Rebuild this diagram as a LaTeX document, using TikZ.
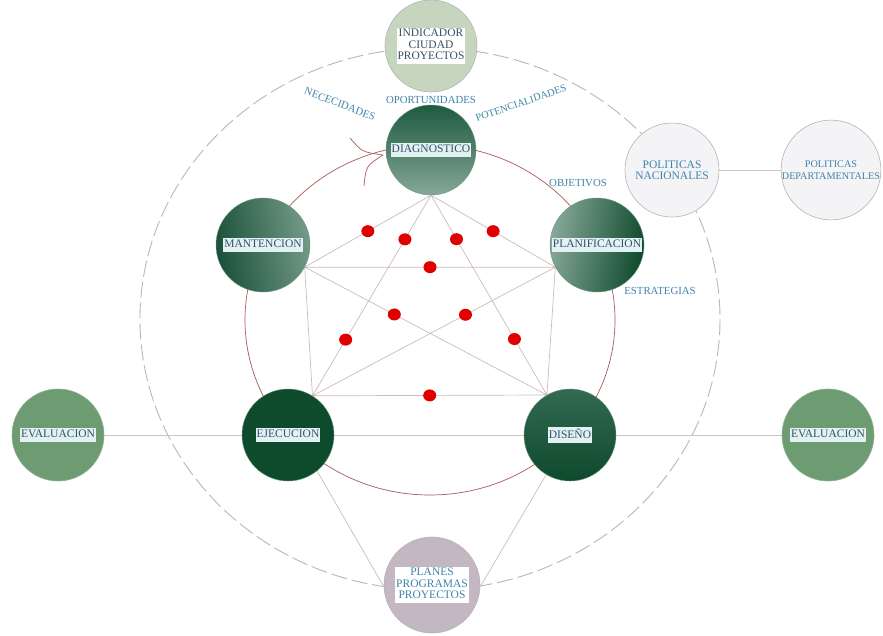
\documentclass[tikz,border=0pt]{standalone}
\usepackage{fontspec}
\setmainfont{Liberation Serif}
\usetikzlibrary{backgrounds,calc}
\pgfdeclarelayer{under}
\pgfsetlayers{background,under,main}
\definecolor{ringred}{HTML}{A85A5A}
\definecolor{dashc}{HTML}{C8B0B0}
\definecolor{linec}{HTML}{CDBBBB}
\definecolor{hlinec}{HTML}{CCC4C4}
\definecolor{labeltxt}{HTML}{35506A}
\definecolor{bluetxt}{HTML}{3F85A8}
\definecolor{labelbg}{HTML}{E2F1F1}
\definecolor{dkgreen}{HTML}{0E4A2C}
\definecolor{dkgreenB}{HTML}{1D5A40}
\definecolor{ltgreen}{HTML}{86A898}
\definecolor{evalgreen}{HTML}{6E9C72}
\definecolor{indfill}{HTML}{C6D6BE}
\definecolor{polfill}{HTML}{F4F4F6}
\definecolor{planfill}{HTML}{C3B8C2}
\definecolor{bordergray}{HTML}{B4B4B8}
\definecolor{dotred}{HTML}{E00000}
\newcommand\boxlbl[2][labelbg]{{\setlength\fboxsep{1pt}\colorbox{#1}{\color{labeltxt}\begin{tabular}{@{}c@{}}#2\end{tabular}}}}
\begin{document}
\begin{tikzpicture}[x=1pt,y=-1pt,
  bubble/.style={circle,inner sep=0pt,font=\fontsize{11.5}{11.5}\selectfont,align=center},
  darknode/.style={bubble,draw=dkgreen!60,line width=0.4pt,minimum size=#1},
  darknode/.default=94pt,
  lightnode/.style={bubble,draw=bordergray,line width=0.6pt,minimum size=#1},
  lightnode/.default=94pt,
  outlbl/.style={font=\fontsize{10.8}{12}\selectfont,text=bluetxt,inner sep=0.5pt},
  pent/.style={draw=linec,line width=0.7pt},
  hline/.style={draw=hlinec,line width=0.8pt},
  dot/.style={fill=dotred,draw=none},
  ring/.style={draw=ringred,line width=0.7pt},
  dashring/.style={draw=dashc,line width=0.9pt,dash pattern=on 16pt off 5pt},
]
\begin{pgfonlayer}{background}
\fill[white] (0,0) rectangle (883,635);
\end{pgfonlayer}
\useasboundingbox (0,0) rectangle (883,635);

% nodes
\node[lightnode=92pt,fill=indfill] (ind) at (431,46) {\boxlbl[white]{INDICADOR\\CIUDAD\\PROYECTOS}};
\node[darknode=90pt,top color=dkgreenB,bottom color=ltgreen] (diag) at (431,150) {\boxlbl{DIAGNOSTICO}};
\node[darknode,left color=dkgreenB!90!black,right color=ltgreen!85!dkgreen,shading angle=100] (mant) at (263,245) {\boxlbl{MANTENCION}};
\node[darknode,left color=ltgreen,right color=dkgreen,shading angle=80] (plan) at (597,245) {\boxlbl{PLANIFICACION}};
\node[darknode=92pt,fill=dkgreen] (ejec) at (288,435) {\boxlbl{EJECUCION}};
\node[darknode=92pt,top color=dkgreenB!80!ltgreen,bottom color=dkgreen] (dis) at (570,435) {\boxlbl{DISEÑO}};
\node[lightnode=92pt,fill=evalgreen,draw=evalgreen!80!white] (evl) at (58,435) {\boxlbl{EVALUACION}};
\node[lightnode=92pt,fill=evalgreen,draw=evalgreen!80!white] (evr) at (828,435) {\boxlbl{EVALUACION}};
\node[lightnode,fill=polfill,text=bluetxt] (pn) at (672,170) {POLITICAS\\NACIONALES};
\node[lightnode,fill=polfill,text=bluetxt,font=\fontsize{10.2}{11.5}\selectfont] (pd) at (831,170) {POLITICAS\\DEPARTAMENTALES};
\node[lightnode=96pt,fill=planfill] (pp) at (432,585) {{\setlength\fboxsep{1pt}\colorbox{white}{\color{bluetxt}\begin{tabular}{@{}c@{}}PLANES\\PROGRAMAS\\PROYECTOS\end{tabular}}}};

% outer labels
\node[outlbl,rotate=-21] (nec) at (340,104) {NECECIDADES};
\node[outlbl] (opo) at (431,100) {OPORTUNIDADES};
\node[outlbl,rotate=19,font=\fontsize{10.3}{12}\selectfont] (pot) at (521,103) {POTENCIALIDADES};
\node[outlbl] (obj) at (578,183) {OBJETIVOS};
\node[outlbl] (est) at (660,291) {ESTRATEGIAS};

% pentagon vertices on node borders
\coordinate (va) at (diag.-90);
\coordinate (vl) at (mant.-28);
\coordinate (vr) at (plan.208);
\coordinate (vbl) at (ejec.58);
\coordinate (vbr) at (dis.120);

\begin{pgfonlayer}{under}
% rings
\draw[dashring] (430,319) ellipse [x radius=290, y radius=271];
\draw[ring] (430,320) ellipse [x radius=185, y radius=175];
% arrow barbs
\coordinate (tip) at (383,155);
\coordinate (b1) at (350,138);
\coordinate (b2) at (364,186);
\draw[ring] (b1) .. controls (362,152) .. (tip);
\draw[ring] (b2) .. controls (366,166) .. (tip);
% complete graph
\draw[pent] (va) -- (vl) (va) -- (vr) (va) -- (vbl) (va) -- (vbr)
  (vl) -- (vr) (vl) -- (vbl) (vl) -- (vbr)
  (vr) -- (vbl) (vr) -- (vbr) (vbl) -- (vbr);
% horizontal axis
\draw[hline] (evl.east) -- (ejec.west);
\draw[hline] (ejec.east) -- (dis.west);
\draw[hline] (dis.east) -- (evr.west);
\draw[hline] (pn.east) -- (pd.west);
% lines to planes
\draw[pent] (ejec.-51) -- (pp.182);
\draw[pent] (dis.239) -- (pp.-2);
\end{pgfonlayer}

% red dots
\foreach \p/\q/\t in {va/vl/0.5,va/vr/0.5,vl/vr/0.5,vbl/vbr/0.5,
  va/vbl/0.22,va/vbr/0.22,va/vbl/0.72,va/vbr/0.72,vl/vbr/0.37,vr/vbl/0.37}{
  \fill[dot] ($(\p)!\t!(\q)$) circle [x radius=6.5, y radius=6];
}
\end{tikzpicture}
\end{document}
